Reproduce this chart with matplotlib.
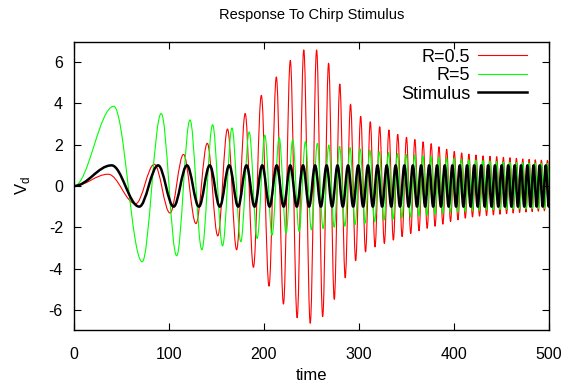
import matplotlib
matplotlib.use("Agg")
import matplotlib.pyplot as plt
from matplotlib.path import Path
from matplotlib.patches import PathPatch
from matplotlib.lines import Line2D

plt.rcParams['font.family'] = ['Liberation Sans', 'DejaVu Sans']
plt.rcParams['axes.unicode_minus'] = False

##extrema of each trace (time of each peak/trough, and its height)
##peaks and troughs alternate, starting with a peak; every trace starts at (0, 0)
stim_t = [39.6, 68.7, 88.6, 104.9, 118.9, 131.5, 142.9, 153.5, 163.4, 172.8,
          181.6, 190.1, 198.2, 205.9, 213.4, 220.7, 227.7, 234.5, 241.1, 247.5,
          253.8, 259.9, 265.9, 271.7, 277.4, 283.0, 288.5, 293.9, 299.2, 304.4,
          309.5, 314.6, 319.5, 324.4, 329.2, 334.0, 338.6, 343.2, 347.8, 352.3,
          356.7, 361.1, 365.4, 369.7, 373.9, 378.1, 382.2, 386.3, 390.3, 394.4,
          398.3, 402.2, 406.1, 410.0, 413.8, 417.6, 421.3, 425.0, 428.7, 432.4,
          436.0, 439.6, 443.1, 446.6, 450.2, 453.6, 457.1, 460.5, 463.9, 467.3,
          470.6, 474.0, 477.3, 480.5, 483.8, 487.0, 490.2, 493.4, 496.6, 499.8, 502.9]
stim_amp = [1.0] * len(stim_t)

red_t = [36.0, 64.9, 84.6, 101.1, 115.3, 128.4, 140.3, 151.4, 161.6, 171.2,
         180.2, 188.9, 197.2, 205.3, 213.0, 220.5, 227.7, 234.9, 241.9, 248.7,
         255.4, 261.8, 268.0, 274.0, 279.8, 285.5, 291.1, 296.5, 301.8, 306.9,
         311.9, 316.9, 321.8, 326.7, 331.5, 336.2, 340.8, 345.4, 350.0, 354.5,
         358.8, 363.2, 367.5, 371.8, 376.0, 380.1, 384.2, 388.3, 392.3, 396.4,
         400.3, 404.2, 408.1, 411.9, 415.7, 419.5, 423.2, 426.9, 430.6, 434.3,
         437.9, 441.5, 445.0, 448.4, 452.0, 455.4, 458.9, 462.3, 465.7, 469.1,
         472.4, 475.8, 479.1, 482.3, 485.6, 488.8, 492.0, 495.2, 498.4, 501.6]
red_amp = [0.57, 0.86, 1.05, 1.31, 1.53, 1.82, 2.07, 2.42, 2.76, 3.09,
           3.51, 3.94, 4.39, 4.85, 5.28, 5.72, 6.08, 6.38, 6.59, 6.65,
           6.59, 6.33, 5.95, 5.49, 4.94, 4.45, 3.96, 3.62, 3.37, 3.19,
           3.11, 2.95, 2.87, 2.78, 2.71, 2.62, 2.50, 2.45, 2.36, 2.30,
           2.25, 2.17, 2.14, 2.05, 2.05, 1.95, 1.90, 1.85, 1.78, 1.72,
           1.67, 1.64, 1.60, 1.56, 1.54, 1.50, 1.50, 1.46, 1.46, 1.43,
           1.44, 1.40, 1.42, 1.37, 1.39, 1.34, 1.37, 1.31, 1.34, 1.28,
           1.31, 1.26, 1.29, 1.24, 1.27, 1.22, 1.25, 1.20, 1.24, 1.19]

green_t = [41.9, 71.8, 91.8, 108.1, 122.1, 134.6, 145.9, 156.4, 166.3, 175.6,
           184.4, 192.8, 200.9, 208.5, 216.0, 223.3, 230.2, 237.0, 243.6, 249.9,
           256.2, 262.2, 268.2, 273.9, 279.6, 285.1, 290.6, 295.9, 301.2, 306.4,
           311.4, 316.5, 321.4, 326.3, 331.1, 335.9, 340.5, 345.1, 349.7, 354.2,
           358.6, 363.0, 367.3, 371.6, 375.8, 380.0, 384.0, 388.1, 392.1, 396.2,
           400.1, 404.0, 407.9, 411.8, 415.6, 419.4, 423.1, 426.8, 430.5, 434.2,
           437.8, 441.4, 444.9, 448.4, 452.0, 455.4, 458.9, 462.3, 465.7, 469.1,
           472.4, 475.8, 479.1, 482.3, 485.6, 488.8, 492.0, 495.2, 498.4, 501.6]
green_amp = [3.86, 3.67, 3.51, 3.38, 3.20, 3.09, 2.97, 2.90, 2.81, 2.70,
             2.62, 2.54, 2.46, 2.38, 2.34, 2.28, 2.24, 2.20, 2.15, 2.12,
             2.06, 2.06, 1.98, 2.00, 1.92, 1.95, 1.86, 1.87, 1.80, 1.80,
             1.74, 1.73, 1.66, 1.66, 1.62, 1.60, 1.57, 1.55, 1.53, 1.50,
             1.49, 1.45, 1.45, 1.41, 1.42, 1.37, 1.39, 1.33, 1.36, 1.29,
             1.33, 1.26, 1.30, 1.23, 1.27, 1.20, 1.25, 1.18, 1.23, 1.16,
             1.21, 1.15, 1.19, 1.14, 1.17, 1.13, 1.15, 1.12, 1.14, 1.11,
             1.13, 1.11, 1.12, 1.10, 1.11, 1.10, 1.10, 1.09, 1.09, 1.09]

labels = ["R=0.5", "R=5", "Stimulus"]
colors = ["#ff0000", "#00ff00", "#000000"]
widths = [0.8, 0.8, 1.8]


def trace_path(times, amps):
    """smooth curve through alternating extrema: cubic beziers with flat tangents at each extremum"""
    verts, codes = [(0.0, 0.0)], [Path.MOVETO]
    t0, v0 = 0.0, 0.0
    for i, (t, a) in enumerate(zip(times, amps)):
        v = a if i % 2 == 0 else -a
        dt = t - t0
        verts += [(t0 + 0.364 * dt, v0), (t - 0.364 * dt, v), (t, v)]
        codes += [Path.CURVE4] * 3
        t0, v0 = t, v
    return Path(verts, codes)


fig = plt.figure(figsize=(5.74, 3.85), dpi=100)
ax = fig.add_axes([0.1289, 0.1416, 0.8275, 0.7506])

traces = [(red_t, red_amp), (green_t, green_amp), (stim_t, stim_amp)]
for (ts, amps), c, lw in zip(traces, colors, widths):
    ax.add_patch(PathPatch(trace_path(ts, amps), facecolor="none", edgecolor=c, lw=lw,
                           joinstyle="round", capstyle="round"))

ax.set_xlim(0, 500)
ax.set_ylim(-7, 7)
ax.set_xticks(range(0, 501, 100))
ax.set_yticks(range(-6, 7, 2))
ax.tick_params(direction="in", top=True, right=True, length=5, width=0.8, labelsize=11.5)
ax.tick_params(axis="x", pad=12)
ax.tick_params(axis="y", pad=8)
for s in ax.spines.values():
    s.set_linewidth(1.0)

ax.set_title("Response To Chirp Stimulus", fontsize=10.5, pad=16)
ax.set_xlabel("time", fontsize=12, labelpad=4)
ax.set_ylabel(r"V$_\mathregular{d}$", fontsize=12, labelpad=12)

handles = [Line2D([], [], color=c, lw=lw) for c, lw in zip(colors, widths)]
ax.legend(handles, labels, loc="upper right", bbox_to_anchor=(0.954, 0.975), frameon=False,
          markerfirst=False, fontsize=13, handlelength=2.7, handletextpad=0.45,
          labelspacing=0.08, borderaxespad=0, borderpad=0)

fig.savefig("out.png", dpi=100)
